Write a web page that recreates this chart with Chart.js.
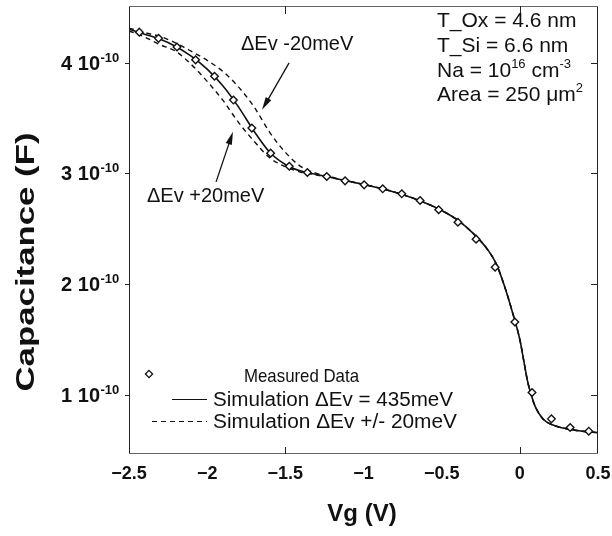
<!DOCTYPE html>
<html>
<head>
<meta charset="utf-8">
<script src="https://cdn.jsdelivr.net/npm/chart.js@4/dist/chart.umd.min.js"></script>
<style>
  html, body { margin: 0; padding: 0; background: #fff; }
  #wrap { width: 612px; height: 536px; }
</style>
</head>
<body>
<div id="wrap"><canvas id="cv" width="612" height="536"></canvas></div>
<script>
// Measured C-V points: gate voltage (V) and capacitance (units of 1e-10 F)
const vgMeasured = [-2.434, -2.311, -2.193, -2.074, -1.953, -1.832, -1.714, -1.594, -1.475, -1.359,
                    -1.235, -1.118, -0.996, -0.877, -0.755, -0.638, -0.519, -0.396, -0.280, -0.158,
                    -0.032, 0.078, 0.202, 0.322, 0.441];
const cMeasured = [4.274, 4.218, 4.140, 4.024, 3.876, 3.661, 3.408, 3.182, 3.064, 3.007,
                   2.971, 2.932, 2.896, 2.860, 2.815, 2.755, 2.671, 2.558, 2.406, 2.153,
                   1.658, 1.022, 0.784, 0.706, 0.673];

// Simulated curves on a common voltage grid (capacitance in 1e-10 F)
const vgSim = [-2.5, -2.4, -2.3, -2.2, -2.1, -2.0, -1.9, -1.8, -1.7, -1.6, -1.5, -1.4, -1.3, -1.2,
               -1.1, -1.0, -0.9, -0.8, -0.7, -0.6, -0.5, -0.4, -0.3, -0.2, -0.15, -0.1, -0.05,
               0, 0.025, 0.05, 0.075, 0.1, 0.15, 0.2, 0.25, 0.3, 0.4, 0.5];
const cSim = [4.30, 4.255, 4.21, 4.145, 4.055, 3.94, 3.79, 3.60, 3.38, 3.19, 3.08, 3.02, 2.99, 2.96,
              2.93, 2.90, 2.868, 2.83, 2.785, 2.73, 2.665, 2.58, 2.46, 2.30, 2.18, 1.99, 1.76,
              1.50, 1.31, 1.12, 0.99, 0.89, 0.78, 0.735, 0.71, 0.695, 0.672, 0.66];
const cSimPlus20 = [4.285, 4.23, 4.16, 4.10, 3.98, 3.83, 3.66, 3.46, 3.29, 3.14, 3.06, 3.01, 2.985, 2.958,
                    2.93, 2.90, 2.868, 2.83, 2.785, 2.73, 2.665, 2.58, 2.46, 2.30, 2.18, 1.99, 1.76,
                    1.50, 1.31, 1.12, 0.99, 0.89, 0.78, 0.735, 0.71, 0.695, 0.672, 0.66];
const cSimMinus20 = [4.31, 4.27, 4.235, 4.175, 4.10, 4.02, 3.92, 3.78, 3.60, 3.37, 3.19, 3.06, 3.00, 2.965,
                     2.93, 2.90, 2.868, 2.83, 2.785, 2.73, 2.665, 2.58, 2.46, 2.30, 2.18, 1.99, 1.76,
                     1.50, 1.31, 1.12, 0.99, 0.89, 0.78, 0.735, 0.71, 0.695, 0.672, 0.66];

// Axis ticks
const xTickValues = [-2.5, -2, -1.5, -1, -0.5, 0, 0.5];
const xTickLabels = ['\u22122.5', '\u22122', '\u22121.5', '\u22121', '\u22120.5', '0', '0.5'];
const yTickValues = [1, 2, 3, 4];
const yTickLabels = ['1 10', '2 10', '3 10', '4 10'];
const yTickExponent = '-10';

const FONT = '"Liberation Sans", Arial, Helvetica, sans-serif';
const INK = '#111';

const toXY = (xs, ys) => xs.map((x, i) => ({ x: x, y: ys[i] }));

// Draw a string; optional width squeezes/stretches it horizontally
function drawText(ctx, s, x, y, font, align, width) {
  ctx.save();
  ctx.font = font;
  ctx.textAlign = 'left';
  ctx.textBaseline = 'alphabetic';
  const w = ctx.measureText(s).width;
  const sx = width ? width / w : 1;
  let x0 = x;
  if (align === 'center') x0 = x - w * sx / 2;
  else if (align === 'right') x0 = x - w * sx;
  ctx.translate(x0, y);
  ctx.scale(sx, 1);
  ctx.fillText(s, 0, 0);
  ctx.restore();
  return x0 + w * sx;
}

// Runs of text with optional raise (superscripts)
function drawRuns(ctx, runs, x, y) {
  let cx = x;
  for (const r of runs) {
    cx = drawText(ctx, r.t, cx, y - (r.up || 0), r.font, 'left');
  }
  return cx;
}

function drawArrow(ctx, x1, y1, x2, y2) {
  const ang = Math.atan2(y2 - y1, x2 - x1);
  const len = 13, half = 3.2;
  ctx.save();
  ctx.strokeStyle = INK;
  ctx.fillStyle = INK;
  ctx.lineWidth = 1.3;
  ctx.beginPath();
  ctx.moveTo(x1, y1);
  ctx.lineTo(x2 - Math.cos(ang) * len * 0.8, y2 - Math.sin(ang) * len * 0.8);
  ctx.stroke();
  ctx.beginPath();
  ctx.moveTo(x2, y2);
  ctx.lineTo(x2 - Math.cos(ang) * len + Math.sin(ang) * half, y2 - Math.sin(ang) * len - Math.cos(ang) * half);
  ctx.lineTo(x2 - Math.cos(ang) * len - Math.sin(ang) * half, y2 - Math.sin(ang) * len + Math.cos(ang) * half);
  ctx.closePath();
  ctx.fill();
  ctx.restore();
}

function diamond(ctx, x, y, r) {
  ctx.save();
  ctx.beginPath();
  ctx.moveTo(x, y - r);
  ctx.lineTo(x + r, y);
  ctx.lineTo(x, y + r);
  ctx.lineTo(x - r, y);
  ctx.closePath();
  ctx.fillStyle = '#fff';
  ctx.fill();
  ctx.strokeStyle = INK;
  ctx.lineWidth = 1.3;
  ctx.stroke();
  ctx.restore();
}

// Frame, ticks, labels, annotations and legend
const decor = {
  id: 'decor',
  afterDraw(chart) {
    const ctx = chart.ctx;
    const a = chart.chartArea;
    const xs = chart.scales.x, ys = chart.scales.y;
    ctx.save();
    ctx.fillStyle = INK;

    // plot frame
    ctx.lineWidth = 1;
    ctx.strokeStyle = '#222';
    ctx.beginPath();
    ctx.moveTo(a.left + 0.5, a.top); ctx.lineTo(a.left + 0.5, a.bottom);
    ctx.moveTo(a.right - 0.5, a.top); ctx.lineTo(a.right - 0.5, a.bottom);
    ctx.stroke();
    ctx.strokeStyle = '#666';
    ctx.beginPath();
    ctx.moveTo(a.left, a.top + 0.5); ctx.lineTo(a.right, a.top + 0.5);
    ctx.moveTo(a.left, a.bottom - 0.5); ctx.lineTo(a.right, a.bottom - 0.5);
    ctx.stroke();

    // frame ticks
    ctx.strokeStyle = '#222';
    ctx.beginPath();
    for (const v of yTickValues) {
      const py = Math.round(ys.getPixelForValue(v)) + 0.5;
      ctx.moveTo(a.left - 4, py); ctx.lineTo(a.left, py);
      ctx.moveTo(a.right - 7, py); ctx.lineTo(a.right, py);
    }
    for (const v of [-1.5, 0]) {
      const px = Math.round(xs.getPixelForValue(v)) + 0.5;
      ctx.moveTo(px, a.top); ctx.lineTo(px, a.top + 8);
      ctx.moveTo(px, a.bottom); ctx.lineTo(px, a.bottom - 7);
    }
    ctx.stroke();

    // x tick labels
    xTickValues.forEach((v, i) => {
      drawText(ctx, xTickLabels[i], xs.getPixelForValue(v), a.bottom + 25, 'bold 18px ' + FONT, 'center');
    });
    // y tick labels with exponent
    yTickValues.forEach((v, i) => {
      const py = ys.getPixelForValue(v);
      const end = drawText(ctx, yTickLabels[i], 100, py + 7, 'bold 20px ' + FONT, 'right');
      drawText(ctx, yTickExponent, end + 0.5, py - 1, 'bold 13px ' + FONT, 'left');
    });

    // axis titles
    drawText(ctx, 'Vg (V)', 362, 521, 'bold 24px ' + FONT, 'center');
    ctx.save();
    ctx.translate(25, 262);
    ctx.rotate(-Math.PI / 2);
    drawText(ctx, 'Capacitance (F)', 0, 9, 'bold 26px ' + FONT, 'center', 259);
    ctx.restore();

    // device parameters
    const F21 = '21px ' + FONT, F13 = '13px ' + FONT;
    drawText(ctx, 'T_Ox = 4.6 nm', 437, 27, F21, 'left');
    drawText(ctx, 'T_Si = 6.6 nm', 437, 52, F21, 'left');
    drawRuns(ctx, [{ t: 'Na = 10', font: F21 }, { t: '16', font: F13, up: 9 },
                   { t: ' cm', font: F21 }, { t: '-3', font: F13, up: 9 }], 437, 77);
    drawRuns(ctx, [{ t: 'Area = 250 \u03bcm', font: F21 }, { t: '2', font: F13, up: 9 }], 437, 101);

    // curve call-outs
    drawText(ctx, '\u0394Ev -20meV', 241, 50, '20px ' + FONT, 'left');
    drawText(ctx, '\u0394Ev +20meV', 147, 202, '20px ' + FONT, 'left');
    drawArrow(ctx, xs.getPixelForValue(-1.476), ys.getPixelForValue(3.997),
                   xs.getPixelForValue(-1.649), ys.getPixelForValue(3.573));
    drawArrow(ctx, xs.getPixelForValue(-1.943), ys.getPixelForValue(2.923),
                   xs.getPixelForValue(-1.835), ys.getPixelForValue(3.375));

    // legend
    const names = chart.data.datasets.map(d => d.label);
    diamond(ctx, 149, 374, 3.6);
    drawText(ctx, names[0], 244, 382, '19px ' + FONT, 'left', 115);
    ctx.strokeStyle = INK;
    ctx.lineWidth = 1.2;
    ctx.beginPath(); ctx.moveTo(172, 399.5); ctx.lineTo(207, 399.5); ctx.stroke();
    drawText(ctx, names[1], 213, 406, '20px ' + FONT, 'left', 240);
    ctx.setLineDash([5, 4]);
    ctx.beginPath(); ctx.moveTo(152, 421.5); ctx.lineTo(207, 421.5); ctx.stroke();
    ctx.setLineDash([]);
    drawText(ctx, 'Simulation \u0394Ev +/- 20meV', 213, 428, '20px ' + FONT, 'left', 244);

    ctx.restore();
  }
};

new Chart(document.getElementById('cv'), {
  type: 'line',
  data: {
    datasets: [
      {
        label: 'Measured Data',
        data: toXY(vgMeasured, cMeasured),
        showLine: false,
        pointStyle: 'rectRot',
        pointRadius: 3.8,
        pointBorderWidth: 1.4,
        pointBorderColor: INK,
        pointBackgroundColor: '#fff',
        borderColor: INK,
        backgroundColor: '#fff'
      },
      {
        label: 'Simulation \u0394Ev = 435meV',
        data: toXY(vgSim, cSim),
        borderColor: INK,
        borderWidth: 1.6,
        pointRadius: 0,
        cubicInterpolationMode: 'monotone',
        fill: false
      },
      {
        label: 'Simulation \u0394Ev +20meV',
        data: toXY(vgSim, cSimPlus20),
        borderColor: INK,
        borderWidth: 1.4,
        borderDash: [5, 4],
        pointRadius: 0,
        cubicInterpolationMode: 'monotone',
        fill: false
      },
      {
        label: 'Simulation \u0394Ev -20meV',
        data: toXY(vgSim, cSimMinus20),
        borderColor: INK,
        borderWidth: 1.4,
        borderDash: [5, 4],
        pointRadius: 0,
        cubicInterpolationMode: 'monotone',
        fill: false
      }
    ]
  },
  options: {
    responsive: false,
    animation: false,
    layout: { padding: { left: 129, right: 14, top: 6, bottom: 82 } },
    plugins: { legend: { display: false }, tooltip: { enabled: false } },
    scales: {
      x: { type: 'linear', min: -2.5, max: 0.5, display: false },
      y: { type: 'linear', min: 0.467, max: 4.51, display: false }
    }
  },
  plugins: [decor]
});
</script>
</body>
</html>
